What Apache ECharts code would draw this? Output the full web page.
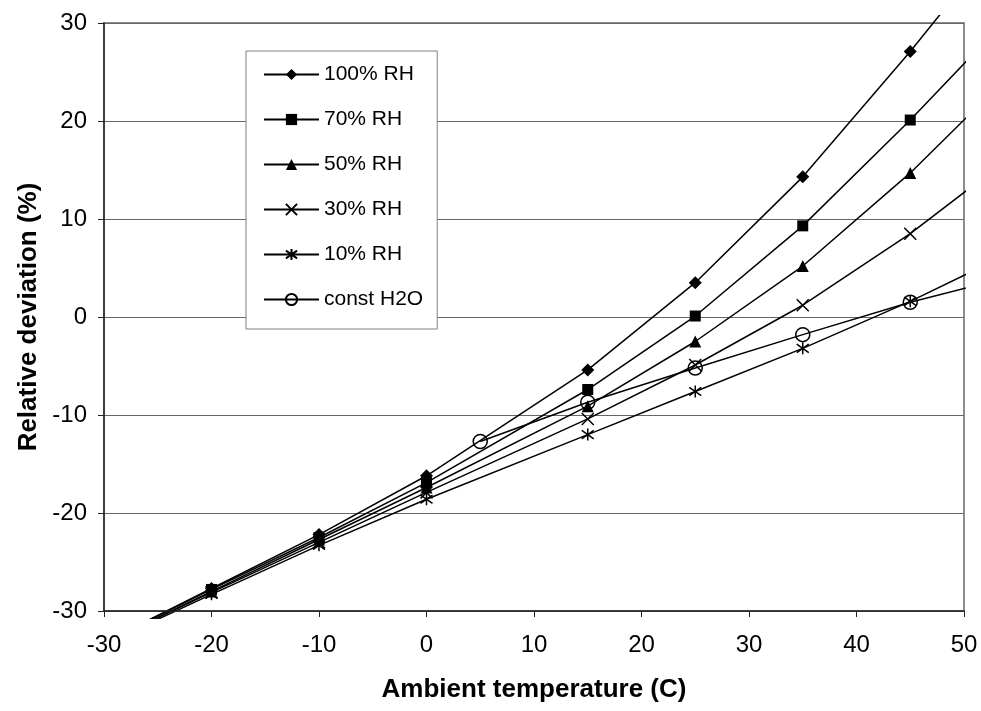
<!DOCTYPE html>
<html>
<head>
<meta charset="utf-8">
<script src="https://cdn.jsdelivr.net/npm/echarts@6/dist/echarts.min.js"></script>
<style>
  html, body { margin: 0; padding: 0; background: #fff; }
  #chart { width: 981px; height: 711px; }
</style>
</head>
<body>
<div id="chart"></div>
<script>
// Ambient temperature (C) of each measurement; the first and last entries lie
// just beyond the axis range, so only the connecting segments show.
var temps = [-30, -20, -10, 0, 15, 25, 35, 45, 55];
var rh100 = [-33.2, -27.7, -22.2, -16.2, -5.4, 3.5, 14.3, 27.1, 40.7];
var rh70  = [-33.2, -27.8, -22.5, -16.9, -7.4, 0.1, 9.3, 20.1, 31.6];
var rh50  = [-33.3, -28.0, -22.7, -17.4, -9.1, -2.5, 5.2, 14.7, 25.5];
var rh30  = [-33.3, -28.1, -23.0, -17.9, -10.4, -4.9, 1.2, 8.5, 16.9];
var rh10  = [-33.4, -28.3, -23.3, -18.6, -12.0, -7.6, -3.2, 1.6, 6.9];

// Constant absolute humidity curve
var constTemps = [5, 15, 25, 35, 45, 55];
var constH2O   = [-12.7, -8.7, -5.2, -1.8, 1.5, 4.3];

var seriesNames = ['100% RH', '70% RH', '50% RH', '30% RH', '10% RH', 'const H2O'];

var xTicks = { min: -30, max: 50, step: 10 };
var yTicks = { min: -30, max: 30, step: 10 };

var FONT = '"Liberation Sans", Arial, sans-serif';

// Markers drawn as stroked paths
var crossPath = 'path://M0,0L10,10M0,10L10,0';
var starPath  = 'path://M5,0L5,10M0,1.5L10,8.5M0,8.5L10,1.5';

function toPoints(xs, ys) {
  return xs.map(function (x, i) { return [x, ys[i]]; });
}

function inRange(value) {
  return value[0] >= xTicks.min && value[0] <= xTicks.max &&
         value[1] >= yTicks.min && value[1] <= yTicks.max;
}

function makeSeries(name, xs, ys, symbol, size, itemStyle) {
  return {
    name: name,
    type: 'line',
    data: toPoints(xs, ys),
    clip: false,
    symbol: symbol,
    // points past the axes only anchor the end segments
    symbolSize: function (value) { return inRange(value) ? size : 0; },
    showAllSymbol: true,
    lineStyle: { color: '#000', width: 1.5 },
    itemStyle: itemStyle,
    emphasis: { disabled: true },
    animation: false
  };
}

var filled = { color: '#000', borderWidth: 0 };
var stroked = { color: 'rgba(0,0,0,0)', borderColor: '#000', borderWidth: 1.5 };

var chart = echarts.init(document.getElementById('chart'), null, { renderer: 'canvas' });

var markerShapes = ['diamond', 'rect', 'triangle', crossPath, starPath, 'circle'];
var markerStyles = [filled, filled, filled, stroked, stroked, stroked];
var markerSizes = [13, 11, 12, 12, 12, 14];
var seriesValues = [rh100, rh70, rh50, rh30, rh10, constH2O];

chart.setOption({
  backgroundColor: '#fff',
  animation: false,
  textStyle: { fontFamily: FONT },
  grid: {
    left: 104, right: 17, top: 23, bottom: 100,
    show: true, borderColor: '#8c8c8c', borderWidth: 2, backgroundColor: 'transparent'
  },
  legend: {
    orient: 'vertical',
    left: 246, top: 51,
    padding: [13, 14, 19, 17],
    itemWidth: 55, itemHeight: 14, itemGap: 24,
    backgroundColor: '#fff',
    borderColor: '#808080', borderWidth: 1,
    textStyle: { fontSize: 21, color: '#000', fontFamily: FONT },
    data: seriesNames
  },
  xAxis: {
    type: 'value',
    min: xTicks.min, max: xTicks.max, interval: xTicks.step,
    z: 101,
    name: 'Ambient temperature (C)',
    nameLocation: 'middle', nameGap: 66,
    nameTextStyle: { fontSize: 26, fontWeight: 'bold', color: '#000', fontFamily: FONT },
    axisLine: { onZero: false, lineStyle: { color: '#222', width: 1.5 } },
    axisTick: { show: true, inside: false, length: 6, lineStyle: { color: '#222', width: 1 } },
    axisLabel: { fontSize: 24, color: '#000', margin: 22, fontFamily: FONT },
    splitLine: { show: false }
  },
  yAxis: {
    type: 'value',
    min: yTicks.min, max: yTicks.max, interval: yTicks.step,
    name: 'Relative deviation (%)',
    nameLocation: 'middle', nameGap: 60,
    nameTextStyle: { fontSize: 26, fontWeight: 'bold', color: '#000', fontFamily: FONT },
    axisLine: { onZero: false, lineStyle: { color: '#222', width: 1.5 } },
    axisTick: { show: true, inside: false, length: 6, lineStyle: { color: '#222', width: 1 } },
    axisLabel: { fontSize: 24, color: '#000', margin: 17, fontFamily: FONT },
    splitLine: { show: true, lineStyle: { color: '#666', width: 1 } }
  },
  // Segments running past the plot are cut a few pixels beyond its edges
  graphic: [
    { type: 'rect', z: 100, silent: true, shape: { x: 100, y: 0, width: 881, height: 15 }, style: { fill: '#fff' } },
    { type: 'rect', z: 100, silent: true, shape: { x: 100, y: 619, width: 881, height: 92 }, style: { fill: '#fff' } }
  ],
  series: seriesNames.map(function (n, i) {
    var xs = i === 5 ? constTemps : temps;
    return makeSeries(n, xs, seriesValues[i], markerShapes[i], markerSizes[i], markerStyles[i]);
  })
});
</script>
</body>
</html>
